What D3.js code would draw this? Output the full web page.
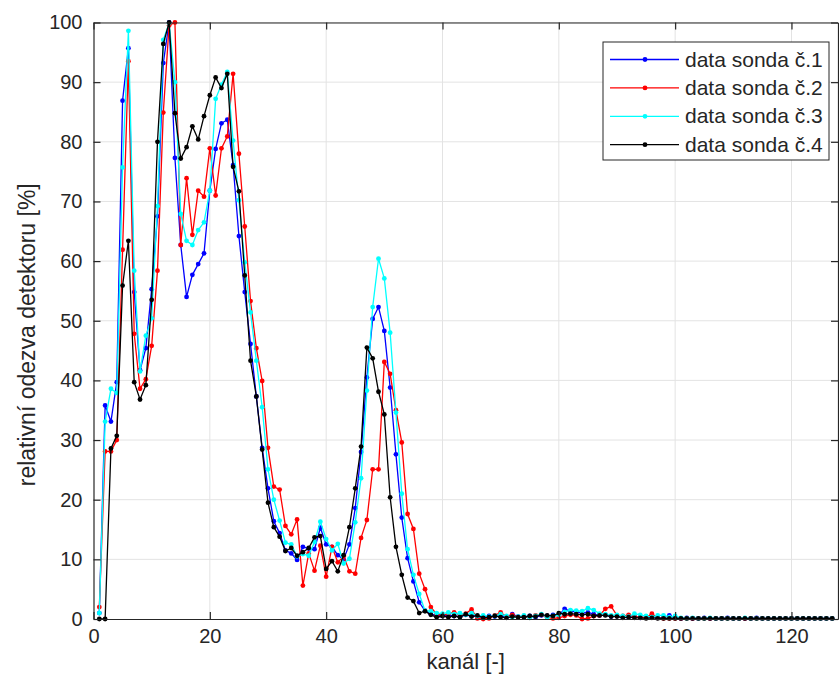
<!DOCTYPE html>
<html>
<head>
<meta charset="utf-8">
<script src="https://cdn.jsdelivr.net/npm/d3@7"></script>
<style>
  body { margin: 0; background: #fff; }
  svg text { font-family: "Liberation Sans", Arial, sans-serif; fill: #262626; }
</style>
</head>
<body>
<div id="chart"></div>
<script>
// channel numbers 1..127
var channels = d3.range(1, 128);

// data sonda c.1 (blue)
var sonda1 = [1, 35.8, 33.1, 39.7, 86.9, 95.7, 54.8, 41.7, 45.4, 55.3,
  67.5, 93.2, 100, 77.3, 62.7, 54.0, 57.7, 59.5, 61.3, 71.8,
  78.8, 83.1, 83.7, 76.1, 64.2, 54.8, 46.1, 37.3, 28.7, 21.9,
  16.4, 14.4, 11.5, 11.0, 9.9, 12.1, 11.8, 11.7, 15.3, 12.5,
  12.1, 10.7, 10.0, 12.5, 18.6, 28.0, 40.5, 50.3, 52.3, 48.3,
  38.8, 27.6, 17.0, 10.2, 6.3, 2.8, 1.4, 0.8, 0.6, 0.5,
  0.6, 0.5, 0.4, 0.7, 0.5, 0.4, 0.3, 0.5, 0.4, 0.6,
  0.3, 0.8, 0.4, 0.3, 0.5, 0.3, 0.6, 0.5, 0.7, 0.6,
  1.7, 1.3, 1.2, 1.0, 1.1, 0.8, 0.6, 0.7, 0.4, 0.5,
  0.3, 0.3, 0.4, 0.2, 0.3, 0.5, 0.2, 0.2, 0.6, 0.2,
  0.1, 0.2, 0.1, 0.1, 0.2, 0.1, 0.1, 0.1, 0.2, 0.1,
  0.1, 0.1, 0.1, 0.2, 0.1, 0.1, 0.1, 0.1, 0.1, 0.1,
  0.1, 0.1, 0.1, 0.1, 0.1, 0.1, 0.1];

// data sonda c.2 (red)
var sonda2 = [2.0, 28.1, 28.1, 30.0, 61.9, 93.5, 47.8, 38.6, 40.2, 45.8,
  58.4, 84.9, 99.5, 100, 62.7, 73.9, 64.4, 71.8, 70.8, 78.9,
  71.0, 78.9, 80.9, 91.4, 78.0, 65.8, 53.3, 45.4, 39.9, 28.7,
  22.2, 21.7, 15.6, 14.2, 16.7, 5.6, 11.0, 8.1, 12.3, 7.1,
  12.1, 9.5, 10.5, 8.0, 7.6, 13.6, 16.6, 25.1, 25.1, 43.1,
  41.1, 35.0, 29.6, 17.6, 15.1, 7.6, 5.0, 2.0, 0.8, 0.6,
  0.9, 1.1, 0.7, 0.9, 1.6, 0.1, 0.0, 0.1, 0.6, 1.1,
  0.4, 0.7, 0.3, 0.5, 0.2, 0.6, 0.7, 0.3, 0.1, 0.2,
  0.5, 0.7, 0.6, 0.0, 0.1, 0.5, 0.6, 1.7, 2.1, 0.6,
  0.5, 0.7, 0.4, 0.3, 0.2, 0.9, 0.2, 0.1, 0.1, 0.1,
  0.1, 0.1, 0.1, 0.1, 0.1, 0.1, 0.1, 0.1, 0.1, 0.1,
  0.1, 0.1, 0.1, 0.1, 0.1, 0.1, 0.1, 0.1, 0.1, 0.1,
  0.1, 0.1, 0.1, 0.1, 0.1, 0.1, 0.1];

// data sonda c.3 (cyan)
var sonda3 = [1, 33.1, 38.6, 37.9, 75.7, 98.6, 58.4, 41.5, 47.5, 50.4,
  69.2, 97.1, 99.9, 90.0, 67.9, 63.4, 62.7, 65.2, 66.5, 71.8,
  87.2, 89.6, 91.7, 80.2, 70.2, 59.8, 51.4, 43.3, 35.5, 25.1,
  20.0, 16.5, 12.8, 12.5, 10.5, 10.9, 10.6, 12.9, 16.3, 13.4,
  11.5, 12.6, 9.3, 10.1, 16.2, 23.6, 38.3, 52.3, 60.4, 57.1,
  48.0, 34.6, 21.0, 11.7, 7.4, 4.2, 1.4, 1.3, 1.0, 0.9,
  1.1, 0.8, 1.0, 0.7, 1.0, 0.5, 0.6, 0.4, 0.5, 0.8,
  0.5, 0.3, 0.4, 0.6, 0.2, 0.5, 0.8, 0.3, 0.5, 0.7,
  1.2, 1.5, 1.4, 1.3, 1.8, 1.5, 0.9, 0.8, 0.6, 0.7,
  0.5, 0.4, 0.9, 0.7, 0.5, 0.3, 0.6, 0.6, 0.3, 0.5,
  0.2, 0.1, 0.2, 0.1, 0.1, 0.2, 0.1, 0.1, 0.1, 0.1,
  0.1, 0.2, 0.1, 0.1, 0.1, 0.1, 0.1, 0.1, 0.1, 0.1,
  0.1, 0.1, 0.1, 0.1, 0.1, 0.1, 0.1];

// data sonda c.4 (black)
var sonda4 = [0, 0, 28.6, 30.7, 55.9, 63.4, 39.7, 36.8, 39.2, 53.5,
  80.0, 96.4, 100, 84.8, 77.2, 79.1, 82.6, 80.4, 84.3, 87.8,
  90.8, 89.0, 91.4, 75.8, 71.7, 57.6, 43.3, 37.3, 28.4, 19.5,
  15.4, 13.8, 11.4, 11.9, 10.6, 11.2, 11.9, 13.7, 13.9, 8.4,
  9.7, 8.0, 10.7, 15.4, 21.9, 28.9, 45.5, 43.7, 38.1, 34.3,
  20.4, 12.1, 7.4, 3.6, 3.0, 1.0, 1.3, 0.7, 0.3, 0.5,
  0.3, 0.5, 0.3, 0.8, 0.4, 0.6, 0.2, 0.3, 0.5, 0.3,
  0.2, 0.4, 0.3, 0.3, 0.5, 0.4, 0.7, 0.6, 0.5, 1.0,
  0.8, 0.9, 0.8, 0.7, 0.8, 0.5, 0.6, 0.6, 0.4, 0.4,
  0.2, 0.3, 0.2, 0.2, 0.1, 0.2, 0.1, 0.1, 0.1, 0.1,
  0.1, 0.1, 0.1, 0.1, 0.1, 0.1, 0.1, 0.1, 0.1, 0.1,
  0.1, 0.1, 0.1, 0.1, 0.1, 0.1, 0.1, 0.1, 0.1, 0.1,
  0.1, 0.1, 0.1, 0.1, 0.1, 0.1, 0.1];

var seriesNames = ["data sonda č.1", "data sonda č.2", "data sonda č.3", "data sonda č.4"];
var seriesColors = ["#0000ff", "#ff0000", "#00ffff", "#000000"];
var xTicks = [0, 20, 40, 60, 80, 100, 120];
var yTicks = [0, 10, 20, 30, 40, 50, 60, 70, 80, 90, 100];

var svgWidth = 839;
var svgHeight = 690;
var margin = { top: 22.5, right: 1, bottom: 71, left: 93.5 };
var chartWidth = svgWidth - margin.left - margin.right;
var chartHeight = svgHeight - margin.top - margin.bottom;

var svg = d3.select("#chart")
  .append("svg")
  .attr("width", svgWidth)
  .attr("height", svgHeight);

var chart = svg.append("g")
  .attr("transform", "translate(" + margin.left + "," + margin.top + ")");

var x = d3.scaleLinear().domain([0, 128]).range([0, chartWidth]);
var y = d3.scaleLinear().domain([0, 100]).range([chartHeight, 0]);

// grid
chart.append("g").selectAll("line")
  .data(xTicks.slice(1))
  .enter().append("line")
  .attr("x1", d => x(d)).attr("x2", d => x(d))
  .attr("y1", 0).attr("y2", chartHeight)
  .attr("stroke", "#e3e3e3").attr("stroke-width", 1);

chart.append("g").selectAll("line")
  .data(yTicks.slice(1))
  .enter().append("line")
  .attr("x1", 0).attr("x2", chartWidth)
  .attr("y1", d => y(d)).attr("y2", d => y(d))
  .attr("stroke", "#e3e3e3").attr("stroke-width", 1);

// series
var allSeries = [sonda1, sonda2, sonda3, sonda4];
var line = d3.line()
  .x((d, i) => x(channels[i]))
  .y(d => y(d));

allSeries.forEach(function(values, k) {
  var g = chart.append("g").attr("class", "series");
  g.append("path")
    .datum(values)
    .attr("d", line)
    .attr("fill", "none")
    .attr("stroke", seriesColors[k])
    .attr("stroke-width", 1.3);
  g.selectAll("circle")
    .data(values)
    .enter().append("circle")
    .attr("cx", (d, i) => x(channels[i]))
    .attr("cy", d => y(d))
    .attr("r", 2.4)
    .attr("fill", seriesColors[k]);
});

// axes
var xAxis = chart.append("g")
  .attr("transform", "translate(0," + chartHeight + ")")
  .call(d3.axisBottom(x).tickValues(xTicks).tickSizeInner(-7).tickSizeOuter(0).tickPadding(10));
var yAxis = chart.append("g")
  .call(d3.axisLeft(y).tickValues(yTicks).tickSizeInner(-7).tickSizeOuter(0).tickPadding(11));
var xTop = chart.append("g")
  .call(d3.axisTop(x).tickValues(xTicks).tickSizeInner(-7).tickSizeOuter(0).tickFormat(""));
var yRight = chart.append("g")
  .attr("transform", "translate(" + chartWidth + ",0)")
  .call(d3.axisRight(y).tickValues(yTicks).tickSizeInner(-7).tickSizeOuter(0).tickFormat(""));

[xAxis, yAxis, xTop, yRight].forEach(function(a) {
  a.selectAll("path").attr("stroke", "#262626").attr("stroke-width", 1.2);
  a.selectAll("line").attr("stroke", "#262626").attr("stroke-width", 1.2);
  a.selectAll("text").style("font-size", "20px").attr("fill", "#262626")
    .style("font-family", "'Liberation Sans', Arial, sans-serif");
});

// axis labels
svg.append("text")
  .attr("x", margin.left + x(64))
  .attr("y", 669)
  .attr("text-anchor", "middle")
  .style("font-size", "22px")
  .text("kanál [-]");

svg.append("text")
  .attr("transform", "translate(35," + (margin.top + chartHeight / 2 + 14) + ") rotate(-90)")
  .attr("text-anchor", "middle")
  .style("font-size", "23px")
  .text("relativní odezva detektoru [%]");

// legend
var legend = svg.append("g").attr("transform", "translate(603,42)");
legend.append("rect")
  .attr("width", 226).attr("height", 118)
  .attr("fill", "#fff")
  .attr("stroke", "#262626").attr("stroke-width", 1);

seriesNames.forEach(function(name, k) {
  var row = legend.append("g").attr("transform", "translate(0," + (17.5 + k * 28.4) + ")");
  row.append("line")
    .attr("x1", 7).attr("x2", 76)
    .attr("stroke", seriesColors[k]).attr("stroke-width", 1.3);
  row.append("circle").attr("cx", 42).attr("r", 2.4).attr("fill", seriesColors[k]);
  row.append("text")
    .attr("x", 82).attr("y", 7)
    .style("font-size", "21px")
    .attr("fill", "#000")
    .text(name);
});
</script>
</body>
</html>
